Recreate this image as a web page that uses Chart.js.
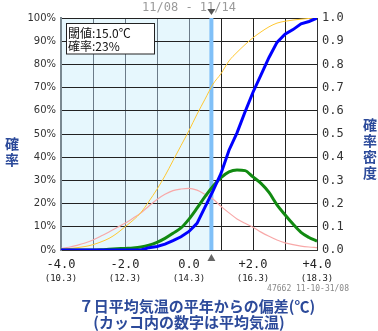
<!DOCTYPE html>
<html><head><meta charset="utf-8">
<script src="https://cdn.jsdelivr.net/npm/chart.js@4/dist/chart.umd.min.js"></script>
<style>html,body{margin:0;padding:0;background:#fff;}canvas{display:block;}</style>
</head><body>
<canvas id="c" width="378" height="331"></canvas>
<script>
// deviation from normal (°C)
const deviations = [-4,-3.75,-3.5,-3.25,-3,-2.75,-2.5,-2.25,-2,-1.75,-1.5,-1.25,-1,-0.75,-0.5,-0.25,0,0.25,0.5,0.75,1,1.25,1.5,1.75,2,2.25,2.5,2.75,3,3.25,3.5,3.75,4];
// forecast cumulative probability (%)
const forecastCdf = [0,0,0,0,0,0,0,0,0,0,0,1.0,1.5,2.5,4.0,5.7,8.0,11.5,18.5,25.5,33,43,50.5,59.5,68,75.5,83,89.5,93,95,97.5,98.5,100];
// forecast probability density
const forecastPdf = [0,0,0,0,0,0.001,0.003,0.005,0.007,0.009,0.013,0.021,0.033,0.05,0.072,0.095,0.133,0.18,0.23,0.275,0.312,0.337,0.345,0.342,0.315,0.287,0.248,0.195,0.152,0.112,0.076,0.054,0.038];
// climatological cumulative probability (%)
const climateCdf = [0.3,0.6,1.0,1.5,2.3,3.5,5.0,7.2,10,12.8,16.2,21,26.2,32,38.5,45,51.5,58.5,65,71.5,76,81.5,85.2,88.5,91.5,94,96.2,97.8,98.6,99.1,99.5,99.8,100];
// climatological probability density
const climatePdf = [0.007,0.012,0.02,0.03,0.043,0.06,0.078,0.097,0.115,0.137,0.16,0.19,0.218,0.24,0.256,0.263,0.266,0.258,0.24,0.22,0.188,0.16,0.134,0.115,0.098,0.077,0.059,0.043,0.031,0.023,0.017,0.013,0.01];

const xTickValues = [-4,-2,0,2,4];
const xTickLabels = ['-4.0','-2.0','0.0','+2.0','+4.0'];
const xTickTemps = ['(10.3)','(12.3)','(14.3)','(16.3)','(18.3)'];
const thresholdDev = 0.7;
const thresholdText = '閾値:15.0℃';
const probText = '確率:23%';
const periodText = '11/08 - 11/14';
const stampText = '47662 11-10-31/08';
const xTitle1 = '７日平均気温の平年からの偏差(℃)';
const xTitle2 = '(カッコ内の数字は平均気温)';

const pts = arr => deviations.map((d,i)=>({x:d,y:arr[i]}));
const MONO = '"DejaVu Sans Mono", "Liberation Mono", monospace';
const CJK = '"Noto Sans CJK JP", "Noto Sans", sans-serif';
const BLUE_TXT = '#2c4a9a';

const deco = {
  id:'deco',
  beforeDraw(chart){
    const {ctx, chartArea:a, scales:{x}} = chart;
    const xr = x.getPixelForValue(thresholdDev);
    ctx.save();
    ctx.fillStyle = '#e6f7fd';
    ctx.fillRect(a.left, a.top, xr - a.left, a.bottom - a.top);
    ctx.restore();
  },
  beforeDatasetsDraw(chart){
    const {ctx, chartArea:a, scales:{x}} = chart;
    const xr = x.getPixelForValue(thresholdDev);
    ctx.save();
    ctx.strokeStyle = '#80c0f8';
    ctx.lineWidth = 4;
    ctx.beginPath(); ctx.moveTo(xr, a.top); ctx.lineTo(xr, a.bottom); ctx.stroke();
    ctx.restore();
  },
  afterDatasetsDraw(chart){
    const {ctx, chartArea:a, scales:{x}} = chart;
    ctx.save();
    // legend box
    ctx.fillStyle = '#fff';
    ctx.fillRect(66.5, 23.5, 88, 30.5);
    ctx.strokeStyle = '#222'; ctx.lineWidth = 1;
    ctx.strokeRect(66.5, 23.5, 88, 30.5);
    ctx.fillStyle = '#111';
    ctx.font = '12px ' + CJK;
    ctx.textBaseline = 'middle'; ctx.textAlign = 'left';
    ctx.fillText(thresholdText, 68, 33);
    ctx.fillText(probText, 68, 46);
    // period title
    const xr = x.getPixelForValue(thresholdDev);
    ctx.font = '12px ' + MONO;
    ctx.fillStyle = '#9a9a9a'; ctx.textAlign = 'center';
    ctx.fillText(periodText, x.getPixelForValue(0), 8);
    // triangles
    ctx.fillStyle = '#555';
    ctx.beginPath(); ctx.moveTo(xr-4, 9); ctx.lineTo(xr+4, 9); ctx.lineTo(xr, 15); ctx.closePath(); ctx.fill();
    ctx.fillStyle = '#666';
    ctx.beginPath(); ctx.moveTo(xr-4, 261); ctx.lineTo(xr+4, 261); ctx.lineTo(xr, 254); ctx.closePath(); ctx.fill();
    // x tick labels
    ctx.fillStyle = '#222';
    xTickValues.forEach((v,i)=>{
      const px = x.getPixelForValue(v);
      ctx.font = '12px ' + MONO;
      ctx.fillText(xTickLabels[i], px, 265);
      ctx.font = '9px ' + MONO;
      ctx.fillText(xTickTemps[i], px, 279);
    });
    // stamp
    ctx.font = '8px ' + MONO; ctx.fillStyle = '#888'; ctx.textAlign = 'right';
    ctx.fillText(stampText, 349, 289);
    // axis titles
    ctx.fillStyle = BLUE_TXT; ctx.textAlign = 'center';
    ctx.font = 'bold 14px ' + CJK;
    ['確','率'].forEach((c,i)=>ctx.fillText(c, 12, 144 + i*16));
    ['確','率','密','度'].forEach((c,i)=>ctx.fillText(c, 370, 125 + i*16));
    ctx.font = 'bold 15px ' + CJK;
    ctx.fillText(xTitle1, 197, 306);
    ctx.fillText(xTitle2, 189, 322);
    ctx.restore();
  }
};

new Chart(document.getElementById('c'), {
  type:'line',
  data:{datasets:[
    {data:pts(forecastCdf), yAxisID:'yL', borderColor:'#0000ff', borderWidth:3, tension:0, pointRadius:0},
    {data:pts(forecastPdf), yAxisID:'yR', borderColor:'#118a11', borderWidth:3, cubicInterpolationMode:'monotone', pointRadius:0},
    {data:pts(climateCdf), yAxisID:'yL', borderColor:'#ffc832', borderWidth:1, cubicInterpolationMode:'monotone', pointRadius:0},
    {data:pts(climatePdf), yAxisID:'yR', borderColor:'#f8a8a8', borderWidth:1.2, cubicInterpolationMode:'monotone', pointRadius:0}
  ]},
  options:{
    responsive:false, animation:false, devicePixelRatio:1,
    layout:{padding:{top:18,left:0,right:0,bottom:0}},
    plugins:{legend:{display:false}, tooltip:{enabled:false}, title:{display:false}},
    scales:{
      x:{type:'linear', min:-4, max:4,
        ticks:{stepSize:1, display:false},
        grid:{drawTicks:false, color:c => (c.tick && c.tick.value < thresholdDev) ? '#6b7b88' : '#222', lineWidth:1},
        border:{display:true, color:'#333', width:1},
        afterFit(s){ s.height = 81; }
      },
      yL:{position:'left', min:0, max:100,
        ticks:{stepSize:10, padding:5, color:'#333', font:{family:'"DejaVu Sans", Verdana, sans-serif', size:10}, callback:v=>v+'%'},
        grid:{drawTicks:false, color:'#222', lineWidth:1},
        border:{display:true, color:'#7a8890', width:2},
        afterFit(s){ s.width = 61; }
      },
      yR:{position:'right', min:0, max:1,
        ticks:{stepSize:0.1, padding:5, color:'#333', font:{family:MONO, size:12}, callback:v=>v.toFixed(1)},
        grid:{drawOnChartArea:false, drawTicks:false},
        border:{display:true, color:'#333', width:1},
        afterFit(s){ s.width = 61; }
      }
    }
  },
  plugins:[deco]
});
</script>
</body></html>
